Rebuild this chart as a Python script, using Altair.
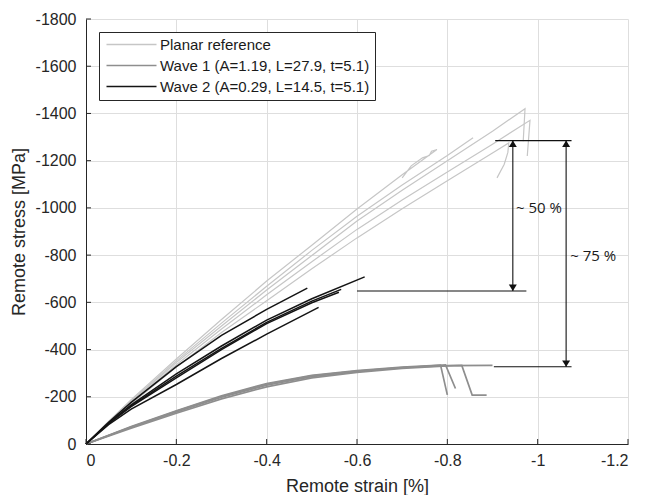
import altair as alt
import pandas as pd

# ---------------- data (strain in %, stress in MPa) ----------------
series_names = ["Planar reference", "Wave 1 (A=1.19, L=27.9, t=5.1)", "Wave 2 (A=0.29, L=14.5, t=5.1)"]
series_colors = ["#c6c6c6", "#8e8e8e", "#141414"]

# Planar reference specimens
p1_strain = [0, -0.05, -0.1, -0.2, -0.3, -0.4, -0.5, -0.6, -0.7, -0.8, -0.9, -0.972, -0.968]
p1_stress = [0, -92, -180, -345, -500, -652, -798, -944, -1075, -1200, -1325, -1420, -1282]
p2_strain = [0, -0.05, -0.1, -0.2, -0.3, -0.4, -0.5, -0.6, -0.7, -0.8, -0.9, -0.983, -0.977]
p2_stress = [0, -90, -176, -336, -487, -632, -772, -909, -1033, -1152, -1270, -1371, -1220]
p3_strain = [0, -0.05, -0.1, -0.2, -0.3, -0.4, -0.5, -0.6, -0.7, -0.8, -0.9, -0.936, -0.934, -0.926, -0.91]
p3_stress = [0, -88, -170, -326, -472, -607, -742, -873, -996, -1115, -1232, -1275, -1235, -1185, -1127]
p4_strain = [0, -0.05, -0.1, -0.2, -0.3, -0.4, -0.5, -0.6, -0.7, -0.8, -0.857]
p4_stress = [0, -94, -183, -352, -512, -668, -820, -965, -1097, -1222, -1297]
p5_strain = [0, -0.05, -0.1, -0.2, -0.3, -0.4, -0.5, -0.6, -0.7, -0.777, -0.765, -0.76, -0.745, -0.72, -0.70]
p5_stress = [0, -96, -188, -360, -527, -690, -842, -995, -1140, -1247, -1240, -1222, -1212, -1178, -1127]

# Wave 1 specimens
w1a_strain = [0, -0.1, -0.2, -0.3, -0.4, -0.5, -0.6, -0.7, -0.785, -0.80]
w1a_stress = [0, -74, -141, -204, -256, -291, -311, -326, -334, -208]
w1b_strain = [0, -0.1, -0.2, -0.3, -0.4, -0.5, -0.6, -0.7, -0.796, -0.818]
w1b_stress = [0, -71, -136, -198, -249, -285, -307, -323, -335, -235]
w1c_strain = [0, -0.1, -0.2, -0.3, -0.4, -0.5, -0.6, -0.7, -0.8, -0.832, -0.855, -0.887]
w1c_stress = [0, -67, -130, -191, -242, -280, -303, -320, -331, -333, -207, -207]
w1d_strain = [0, -0.1, -0.2, -0.3, -0.4, -0.5, -0.6, -0.7, -0.8, -0.9]
w1d_stress = [0, -72, -138, -201, -253, -289, -309, -324, -332, -333]

# Wave 2 specimens
b1_strain = [0, -0.05, -0.1, -0.2, -0.3, -0.4, -0.49]
b1_stress = [0, -92, -176, -328, -460, -570, -660]
b2_strain = [0, -0.05, -0.1, -0.2, -0.3, -0.4, -0.5, -0.617]
b2_stress = [0, -89, -166, -297, -415, -525, -615, -708]
b3_strain = [0, -0.05, -0.1, -0.2, -0.3, -0.4, -0.5, -0.565]
b3_stress = [0, -88, -162, -287, -405, -515, -605, -655]
b4_strain = [0, -0.05, -0.1, -0.2, -0.3, -0.4, -0.5, -0.56]
b4_stress = [0, -86, -158, -280, -400, -510, -598, -643]
b5_strain = [0, -0.05, -0.1, -0.2, -0.3, -0.4, -0.515]
b5_stress = [0, -82, -148, -252, -362, -465, -579]

# annotation values
hline_stress = [-1285, -648, -327]
hline_from = [-0.906, -0.600, -0.903]
hline_to = [-1.075, -0.975, -1.075]
arrow_strain = [-0.945, -1.063]
arrow_top = [-1285, -1285]
arrow_bottom = [-648, -327]
note_text = ["~ 50 %", "~ 75 %"]
note_strain = [-0.952, -1.072]
note_stress = [-1000, -798]

x_ticks = [0, -0.2, -0.4, -0.6, -0.8, -1, -1.2]
y_ticks = [0, -200, -400, -600, -800, -1000, -1200, -1400, -1600, -1800]

# ---------------- build tables ----------------
curves = [
    (0, "p1", p1_strain, p1_stress), (0, "p2", p2_strain, p2_stress), (0, "p3", p3_strain, p3_stress),
    (0, "p4", p4_strain, p4_stress), (0, "p5", p5_strain, p5_stress),
    (1, "w1a", w1a_strain, w1a_stress), (1, "w1b", w1b_strain, w1b_stress),
    (1, "w1c", w1c_strain, w1c_stress), (1, "w1d", w1d_strain, w1d_stress),
    (2, "b1", b1_strain, b1_stress), (2, "b2", b2_strain, b2_stress), (2, "b3", b3_strain, b3_stress),
    (2, "b4", b4_strain, b4_stress), (2, "b5", b5_strain, b5_stress),
]
rows = []
for s_idx, cid, xs, ys in curves:
    for i, (xv, yv) in enumerate(zip(xs, ys)):
        rows.append({"series": series_names[s_idx], "curve": cid, "idx": i, "strain": xv, "stress": yv})
df = pd.DataFrame(rows)

W, H = 542, 425
FONT = "Liberation Sans"
AX = "#262626"

xscale = alt.Scale(domain=[0, -1.2], nice=False, zero=False)
yscale = alt.Scale(domain=[0, -1800], nice=False, zero=False)
x_axis = alt.Axis(values=x_ticks, labelExpr="'' + datum.value", title="Remote strain [%]",
                  labelPadding=8, titlePadding=9)
y_axis = alt.Axis(values=y_ticks, labelExpr="'' + datum.value", title="Remote stress [MPa]",
                  labelPadding=10, titlePadding=7)


def X(field):
    return alt.X(field, type="quantitative", scale=xscale, axis=x_axis)


def Y(field):
    return alt.Y(field, type="quantitative", scale=yscale, axis=y_axis)


color = alt.Color("series:N", scale=alt.Scale(domain=series_names, range=series_colors),
                  legend=alt.Legend(title=None, orient="none", legendX=13, legendY=13,
                                    symbolType="M-1,0H9", symbolSize=100, symbolStrokeWidth=1.3,
                                    symbolOffset=0, labelOffset=41, labelLimit=400,
                                    labelFont=FONT, labelFontSize=15, labelColor="#1a1a1a",
                                    padding=5, rowPadding=5, strokeColor=AX, fillColor="white",
                                    direction="vertical"))

widths = [1.2, 1.7, 1.5]
line_layers = []
for k, name in enumerate(series_names):
    line_layers.append(
        alt.Chart(df[df["series"] == name]).mark_line(strokeWidth=widths[k]).encode(
            x=X("strain"), y=Y("stress"), color=color, detail="curve:N", order="idx:Q"
        )
    )

hl = alt.Chart(pd.DataFrame({"y": hline_stress, "x1": hline_from, "x2": hline_to})).mark_rule(
    color="#111111", strokeWidth=1.1).encode(x=X("x1"), x2="x2:Q", y=Y("y"))
vl = alt.Chart(pd.DataFrame({"x": arrow_strain, "y1": arrow_top, "y2": arrow_bottom})).mark_rule(
    color="#111111", strokeWidth=1.1).encode(x=X("x"), y=Y("y1"), y2="y2:Q")
ah_up = alt.Chart(pd.DataFrame({"x": arrow_strain, "y": arrow_top})).mark_point(
    shape="M0,0L1,1.6L-1,1.6Z", filled=True, size=64, color="#111111", opacity=1).encode(
    x=X("x"), y=Y("y"))
ah_dn = alt.Chart(pd.DataFrame({"x": arrow_strain, "y": arrow_bottom})).mark_point(
    shape="M0,0L1,-1.6L-1,-1.6Z", filled=True, size=64, color="#111111", opacity=1).encode(
    x=X("x"), y=Y("y"))
notes = alt.Chart(pd.DataFrame({"x": note_strain, "y": note_stress, "t": note_text})).mark_text(
    align="left", baseline="middle", font="Open Sans", fontSize=15, color="#1a1a1a").encode(
    x=X("x"), y=Y("y"), text="t:N")

xt = alt.Chart(pd.DataFrame({"t": x_ticks})).mark_rule(color=AX, strokeWidth=1).encode(
    x=X("t"), y=alt.value(H), y2=alt.value(H - 5))
yt = alt.Chart(pd.DataFrame({"t": y_ticks})).mark_rule(color=AX, strokeWidth=1).encode(
    y=Y("t"), x=alt.value(0), x2=alt.value(5))

chart = alt.layer(*line_layers, hl, vl, ah_up, ah_dn, notes, xt, yt).properties(
    width=W, height=H,
    autosize=alt.AutoSizeParams(type="none"),
    padding={"left": 78, "top": 11, "right": 10, "bottom": 56},
).configure_view(stroke=None).configure_axis(
    gridColor="#dedede", gridWidth=1, domainColor=AX, domainWidth=1, tickSize=0,
    labelFont=FONT, labelFontSize=16, labelColor=AX,
    titleFont=FONT, titleFontSize=18, titleFontWeight="normal", titleColor=AX,
)

chart.save("out.html", embed_options={"renderer": "svg", "actions": False})
